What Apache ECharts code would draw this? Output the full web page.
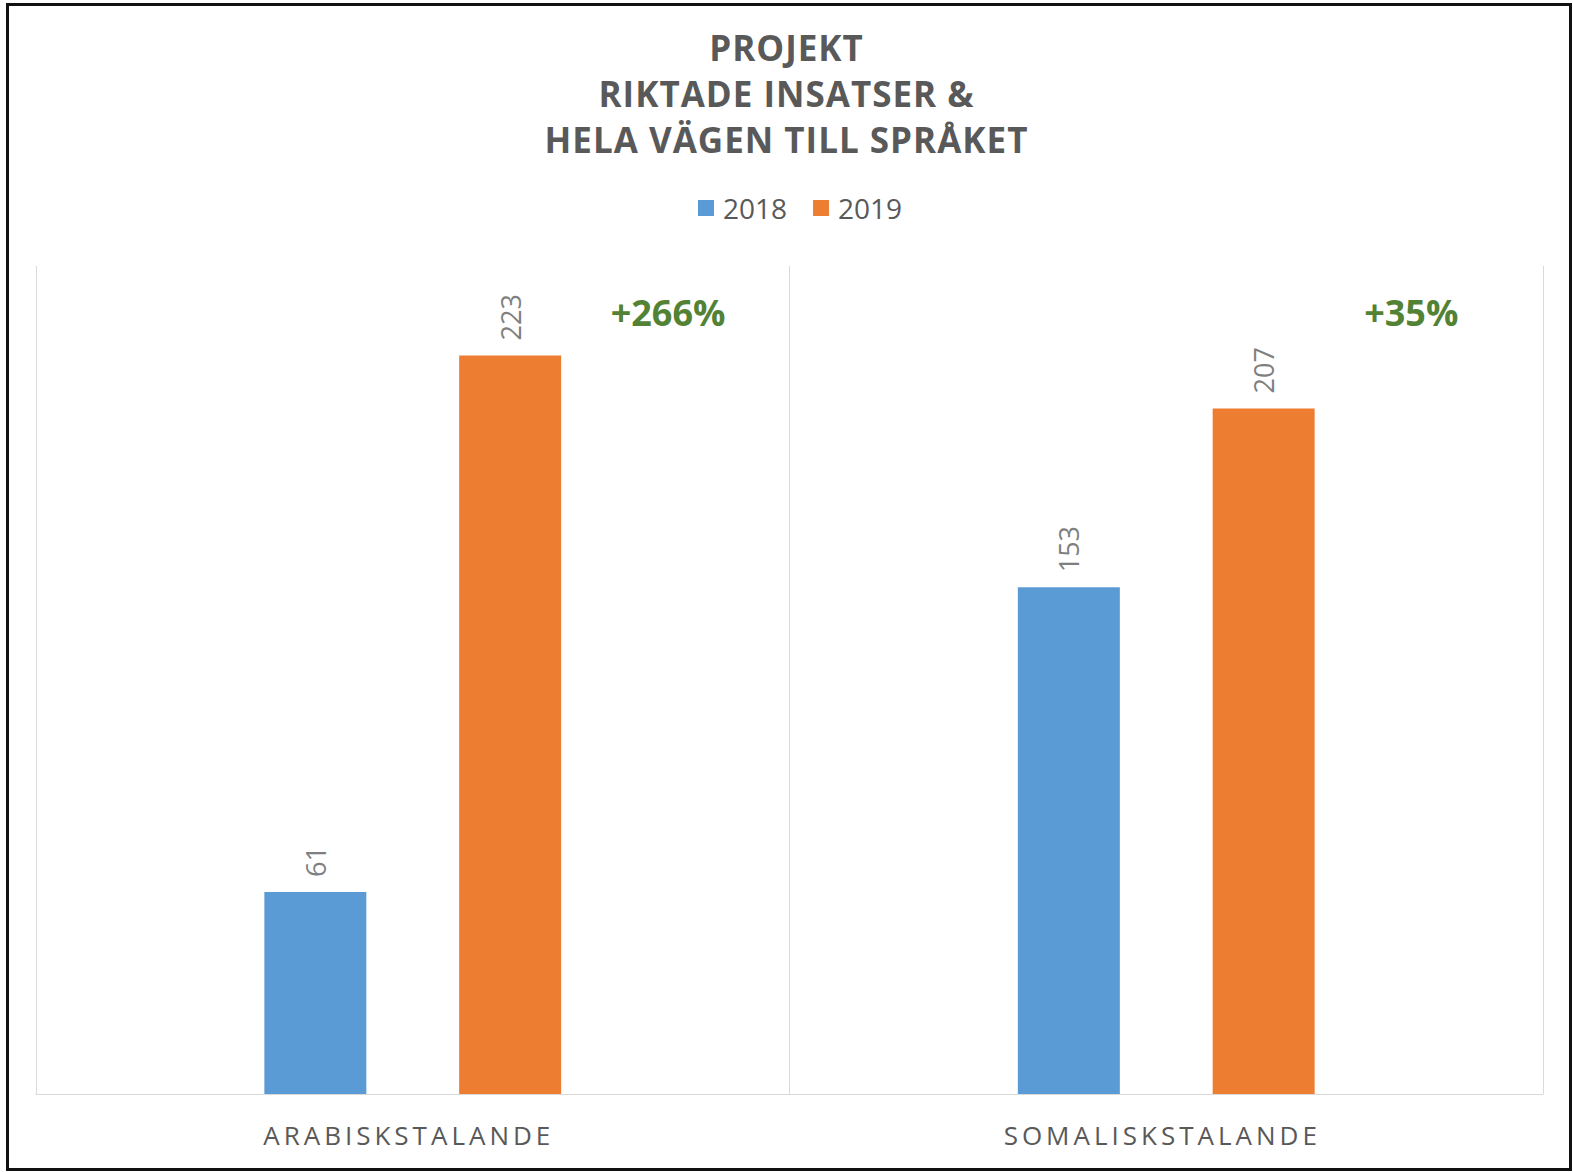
<!DOCTYPE html>
<html>
<head>
<meta charset="utf-8">
<script src="https://cdn.jsdelivr.net/npm/echarts@6/dist/echarts.min.js"></script>
<style>
  body { margin: 0; background: #fff; }
  #grafico { position: absolute; left: 0; top: 0; width: 1573px; height: 1172px; }
  #moldura { position: absolute; left: 6px; top: 3px; width: 1566px; height: 1168px;
             box-sizing: border-box; border: 3px solid #111; pointer-events: none; }
  /* espaçamento entre letras: rótulos do eixo x e título */
  #grafico text[style*="26px"] { letter-spacing: 4px; }
  #grafico text[style*="35px"] { letter-spacing: 1px; }
</style>
</head>
<body>
<div id="grafico"></div>
<div id="moldura"></div>
<script>
// dados
const categorias = ['ARABISKSTALANDE', 'SOMALISKSTALANDE'];
const anos = ['2018', '2019'];
const valores2018 = [61, 153];
const valores2019 = [223, 207];
const variacoes = ['+266%', '+35%'];

const cores = ['#5B9BD5', '#ED7D31'];
const cinza = '#595959';
const fonte = '"Open Sans", sans-serif';

const grafico = echarts.init(document.getElementById('grafico'), null, { renderer: 'svg' });

const rotulo = {
    show: true,
    position: 'top',
    distance: 15,
    rotate: 90,
    align: 'left',
    verticalAlign: 'middle',
    fontFamily: fonte,
    fontSize: 27,
    color: '#7F7F7F'
};

const option = {
    animation: false,
    title: {
        text: 'PROJEKT\nRIKTADE INSATSER &\nHELA VÄGEN TILL SPRÅKET',
        left: 'center',
        top: 19,
        textStyle: {
            fontFamily: fonte,
            fontWeight: 'bold',
            fontSize: 35,
            lineHeight: 46,
            color: cinza
        }
    },
    legend: {
        data: anos,
        top: 189,
        left: 693,
        icon: 'rect',
        itemWidth: 16,
        itemHeight: 16,
        itemGap: 26,
        textStyle: { fontFamily: fonte, fontSize: 28, color: cinza, padding: [0, 0, 0, 4] }
    },
    grid: { left: 36, right: 30, top: 266, bottom: 78 },
    xAxis: {
        type: 'category',
        data: categorias,
        axisLine: { show: true, lineStyle: { color: '#D9D9D9', width: 1 } },
        axisTick: { show: false },
        splitLine: { show: true, lineStyle: { color: '#D9D9D9', width: 1 } },
        axisLabel: { fontFamily: fonte, fontSize: 26, color: cinza, margin: 28, padding: [0, 8, 0, 0] }
    },
    yAxis: {
        type: 'value',
        min: 0,
        max: 250,
        show: false
    },
    series: [
        {
            name: anos[0],
            type: 'bar',
            data: valores2018,
            barWidth: 102,
            barGap: '91%',
            itemStyle: { color: cores[0] },
            label: rotulo
        },
        {
            name: anos[1],
            type: 'bar',
            data: valores2019,
            barWidth: 102,
            itemStyle: { color: cores[1] },
            label: rotulo,
            markPoint: {
                symbol: 'circle',
                symbolSize: 1,
                itemStyle: { color: 'rgba(0,0,0,0)' },
                label: {
                    show: true,
                    position: 'right',
                    distance: 100,
                    formatter: '{b}',
                    fontFamily: fonte,
                    fontWeight: 'bold',
                    fontSize: 36,
                    color: '#548235'
                },
                data: variacoes.map((v, i) => ({ name: v, coord: [i, 236] }))
            }
        }
    ]
};

grafico.setOption(option);
</script>
</body>
</html>
